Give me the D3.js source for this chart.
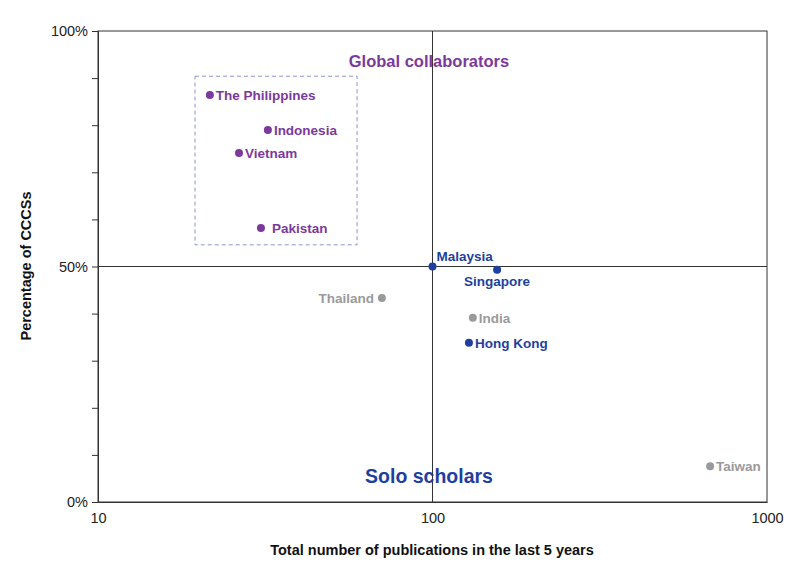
<!DOCTYPE html>
<html><head><meta charset="utf-8">
<script src="https://cdn.jsdelivr.net/npm/d3@7"></script>
<style>body{margin:0;background:#fff;font-family:"Liberation Sans",Arial,sans-serif}</style>
</head><body><svg id="c" width="800" height="572"></svg>
<script>
const names=["The Philippines","Indonesia","Vietnam","Pakistan","Malaysia","Singapore","Thailand","India","Hong Kong","Taiwan"];
const pubs=[21.6,32.2,26.4,30.7,100,156,70.6,132,128.5,676];
const pct=[86.4,79,74.1,58.2,50,49.3,43.3,39.1,33.8,7.6];
const groups=["g","g","g","g","s","s","o","o","s","o"];
const labelPos=["r","r","r","rr","ur","bl","l","r","r","r"];
const xTicks=[10,100,1000];
const yTicks=[0,50,100];
const box=[19.5,59.5,54.6,90.4];
const colors={g:"#7B3A9B",s:"#1F3F9E",o:"#9A9A9A"};
const svg=d3.select("#c");
const x=d3.scaleLog().domain([10,1000]).range([98,767]);
const y=d3.scaleLinear().domain([0,100]).range([502,31]);
svg.append("rect").attr("x",98).attr("y",31).attr("width",669).attr("height",471).attr("fill","none").attr("stroke","#333");
const gx=svg.append("g").attr("transform","translate(0,502)").call(d3.axisBottom(x).tickValues(xTicks).tickFormat(d3.format("d")).tickSize(0).tickPadding(11));
const gy=svg.append("g").attr("transform","translate(98,0)").call(d3.axisLeft(y).tickValues(d3.range(0,101,10)).tickFormat(d=>yTicks.includes(d)?d+"%":"").tickSize(6).tickPadding(4));
[gx,gy].forEach(g=>{g.select(".domain").attr("stroke","#333");g.selectAll("text").attr("font-size",14.5).attr("fill","#222").attr("font-family","Liberation Sans, Arial");g.selectAll("line").attr("stroke","#333");});
svg.append("line").attr("x1",x(100)).attr("x2",x(100)).attr("y1",31).attr("y2",502).attr("stroke","#333");
svg.append("line").attr("x1",98).attr("x2",767).attr("y1",y(50)).attr("y2",y(50)).attr("stroke","#333");
svg.append("rect").attr("x",x(box[0])).attr("y",y(box[3])).attr("width",x(box[1])-x(box[0])).attr("height",y(box[2])-y(box[3])).attr("fill","none").attr("stroke","#8F93D6").attr("stroke-dasharray","4,3");
names.forEach((n,i)=>{
 const cx=x(pubs[i]),cy=y(pct[i]),c=colors[groups[i]];
 svg.append("circle").attr("cx",cx).attr("cy",cy).attr("r",4).attr("fill",c);
 let tx=cx+6,ty=cy+5,a="start";
 if(labelPos[i]=="rr"){tx=cx+11;}
 if(labelPos[i]=="l"){tx=cx-8;a="end";}
 if(labelPos[i]=="ur"){tx=cx+4;ty=cy-6;}
 if(labelPos[i]=="bl"){tx=cx;ty=cy+16;a="middle";}
 svg.append("text").attr("x",tx).attr("y",ty).attr("text-anchor",a).attr("font-size",13.5).attr("font-weight","bold").attr("fill",c).text(n);
});
svg.append("text").attr("x",429).attr("y",67).attr("text-anchor","middle").attr("font-size",16.5).attr("font-weight","bold").attr("fill",colors.g).text("Global collaborators");
svg.append("text").attr("x",429).attr("y",483).attr("text-anchor","middle").attr("font-size",19.5).attr("font-weight","bold").attr("fill",colors.s).text("Solo scholars");
svg.append("text").attr("x",432).attr("y",555).attr("text-anchor","middle").attr("font-size",14.5).attr("font-weight","bold").attr("fill","#111").text("Total number of publications in the last 5 years");
svg.append("text").attr("transform","translate(31,266) rotate(-90)").attr("text-anchor","middle").attr("font-size",14.5).attr("font-weight","bold").attr("fill","#111").text("Percentage of CCCSs");
</script></body></html>
